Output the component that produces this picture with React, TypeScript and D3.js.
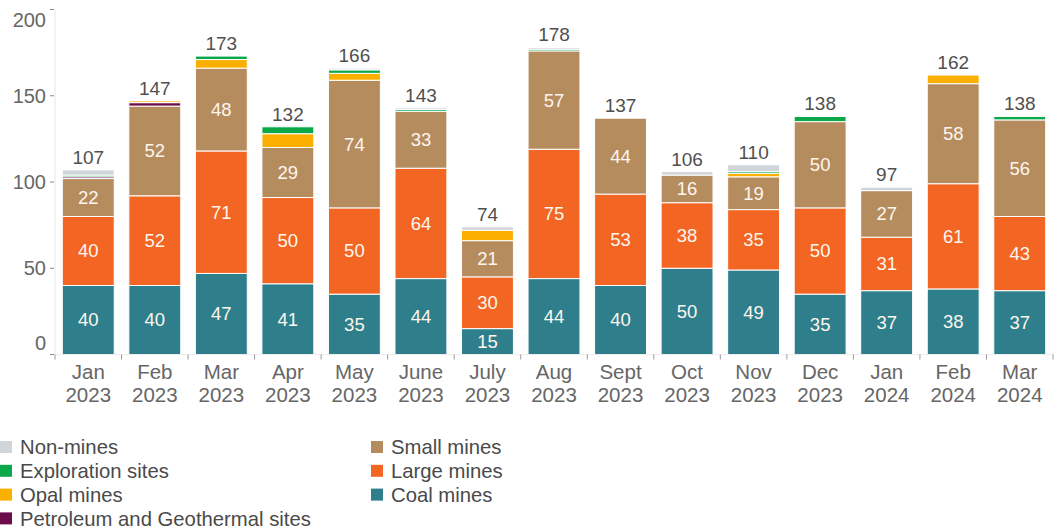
import React from "react";
import * as d3 from "d3";

const monthLabels = ["Jan", "Feb", "Mar", "Apr", "May", "June", "July", "Aug", "Sept", "Oct", "Nov", "Dec", "Jan", "Feb", "Mar"];
const yearLabels = ["2023", "2023", "2023", "2023", "2023", "2023", "2023", "2023", "2023", "2023", "2023", "2023", "2024", "2024", "2024"];

const coalMines = [40, 40, 47, 41, 35, 44, 15, 44, 40, 50, 49, 35, 37, 38, 37];
const largeMines = [40, 52, 71, 50, 50, 64, 30, 75, 53, 38, 35, 50, 31, 61, 43];
const smallMines = [22, 52, 48, 29, 74, 33, 21, 57, 44, 16, 19, 50, 27, 58, 56];
const petroleumSites = [1, 2, 0, 0, 0, 0, 0, 0, 0, 0, 0, 0, 0, 0, 0];
const opalMines = [0, 1, 5, 8, 4, 0, 6, 0, 0, 0, 2, 0, 0, 5, 0];
const explorationSites = [1, 0, 2, 4, 2, 1, 0, 1, 0, 0, 1, 3, 0, 0, 2];
const nonMines = [3, 0, 0, 0, 1, 1, 2, 1, 0, 2, 4, 0, 2, 0, 0];

const yTicks = [0, 50, 100, 150, 200];

const seriesKeys = ["coal", "large", "small", "petroleum", "opal", "exploration", "nonmines"];
const seriesNames: Record<string, string> = {
  coal: "Coal mines",
  large: "Large mines",
  small: "Small mines",
  petroleum: "Petroleum and Geothermal sites",
  opal: "Opal mines",
  exploration: "Exploration sites",
  nonmines: "Non-mines",
};
const seriesColors: Record<string, string> = {
  coal: "#2e7f8b",
  large: "#f26522",
  small: "#b58c5e",
  petroleum: "#6b0d4b",
  opal: "#fbb000",
  exploration: "#0ba84a",
  nonmines: "#d0d5da",
};
const labelledKeys = ["coal", "large", "small"];
const legendCol1 = ["nonmines", "exploration", "opal", "petroleum"];
const legendCol2 = ["small", "large", "coal"];

const FONT = "'Liberation Sans', Arial, sans-serif";

export default function App() {
  const width = 1054;
  const height = 531;
  const left = 55;
  const right = 1053;
  const top = 9.5;
  const bottom = 354.5;

  const rows = monthLabels.map((m, i) => ({
    idx: i,
    coal: coalMines[i],
    large: largeMines[i],
    small: smallMines[i],
    petroleum: petroleumSites[i],
    opal: opalMines[i],
    exploration: explorationSites[i],
    nonmines: nonMines[i],
  }));

  const x = d3
    .scaleBand<number>()
    .domain(rows.map((r) => r.idx))
    .range([left, right])
    .paddingInner(0.22)
    .paddingOuter(0.11);
  const y = d3.scaleLinear().domain([0, 200]).range([bottom, top]);

  const stack = d3.stack<any>().keys(seriesKeys);
  const stacked = stack(rows as any);

  const totals = rows.map((r) => seriesKeys.reduce((s, k) => s + (r as any)[k], 0));
  const step = x.step();
  const boundaries = d3.range(rows.length + 1).map((i) => left + i * step);

  return (
    <svg
      width={width}
      height={height}
      style={{ position: "absolute", left: 0, top: 0, display: "block", fontFamily: FONT }}
    >
      <rect width={width} height={height} fill="#fff" />
      {/* bars */}
      {stacked.map((layer) => (
        <g key={layer.key}>
          {layer.map((d, i) => {
            const h = y(d[0]) - y(d[1]);
            if (h <= 0) return null;
            return (
              <rect
                key={i}
                x={x(i)!}
                y={y(d[1])}
                width={x.bandwidth()}
                height={h}
                fill={seriesColors[layer.key]}
                stroke="#fff"
                strokeWidth={1}
              />
            );
          })}
        </g>
      ))}
      {/* value labels */}
      {stacked
        .filter((l) => labelledKeys.includes(l.key))
        .map((layer) => (
          <g key={"lbl" + layer.key}>
            {layer.map((d, i) => {
              const v = d[1] - d[0];
              if (v <= 0) return null;
              return (
                <text
                  key={i}
                  x={x(i)! + x.bandwidth() / 2}
                  y={(y(d[0]) + y(d[1])) / 2}
                  dy="0.35em"
                  textAnchor="middle"
                  fontSize={18.5}
                  fill="#fdf6ee"
                >
                  {v}
                </text>
              );
            })}
          </g>
        ))}
      {/* totals */}
      {totals.map((t, i) => (
        <text
          key={"t" + i}
          x={x(i)! + x.bandwidth() / 2}
          y={y(t) - 6}
          textAnchor="middle"
          fontSize={19}
          fill="#4f4f4f"
        >
          {t}
        </text>
      ))}
      {/* y axis */}
      <line x1={left} x2={left} y1={top} y2={bottom} stroke="#e6e6e6" strokeWidth={1} />
      {yTicks.map((t) => (
        <g key={"yt" + t}>
          <line x1={left - 5} x2={left - 1} y1={y(t)} y2={y(t)} stroke="#8a8a8a" strokeWidth={1} />
          <text
            x={left - 9}
            y={t === 200 ? y(t) + 10 : t === 0 ? y(t) - 12 : y(t)}
            dy="0.35em"
            textAnchor="end"
            fontSize={20}
            fill="#666"
          >
            {t}
          </text>
        </g>
      ))}
      {/* x axis */}
      <line x1={left} x2={right} y1={bottom} y2={bottom} stroke="#ececec" strokeWidth={1} />
      {boundaries.map((bx, i) => (
        <line key={"xt" + i} x1={bx} x2={bx} y1={bottom} y2={bottom + 5} stroke="#9a9a9a" strokeWidth={1} />
      ))}
      {rows.map((r, i) => (
        <text
          key={"xl" + i}
          x={x(i)! + x.bandwidth() / 2}
          textAnchor="middle"
          fontSize={20.5}
          fill="#666"
        >
          <tspan x={x(i)! + x.bandwidth() / 2} y={379}>
            {monthLabels[i]}
          </tspan>
          <tspan x={x(i)! + x.bandwidth() / 2} y={401.5}>
            {yearLabels[i]}
          </tspan>
        </text>
      ))}
      {/* legend */}
      {legendCol1.map((k, j) => (
        <g key={"lg1" + k} transform={`translate(0, ${441 + j * 23.8})`}>
          <rect x={0} y={0} width={12} height={12} fill={seriesColors[k]} />
          <text x={20} y={6} dy="0.35em" fontSize={20.3} fill="#4a4a4a">
            {seriesNames[k]}
          </text>
        </g>
      ))}
      {legendCol2.map((k, j) => (
        <g key={"lg2" + k} transform={`translate(371, ${441 + j * 23.8})`}>
          <rect x={0} y={0} width={12} height={12} fill={seriesColors[k]} />
          <text x={20} y={6} dy="0.35em" fontSize={20.3} fill="#4a4a4a">
            {seriesNames[k]}
          </text>
        </g>
      ))}
    </svg>
  );
}
